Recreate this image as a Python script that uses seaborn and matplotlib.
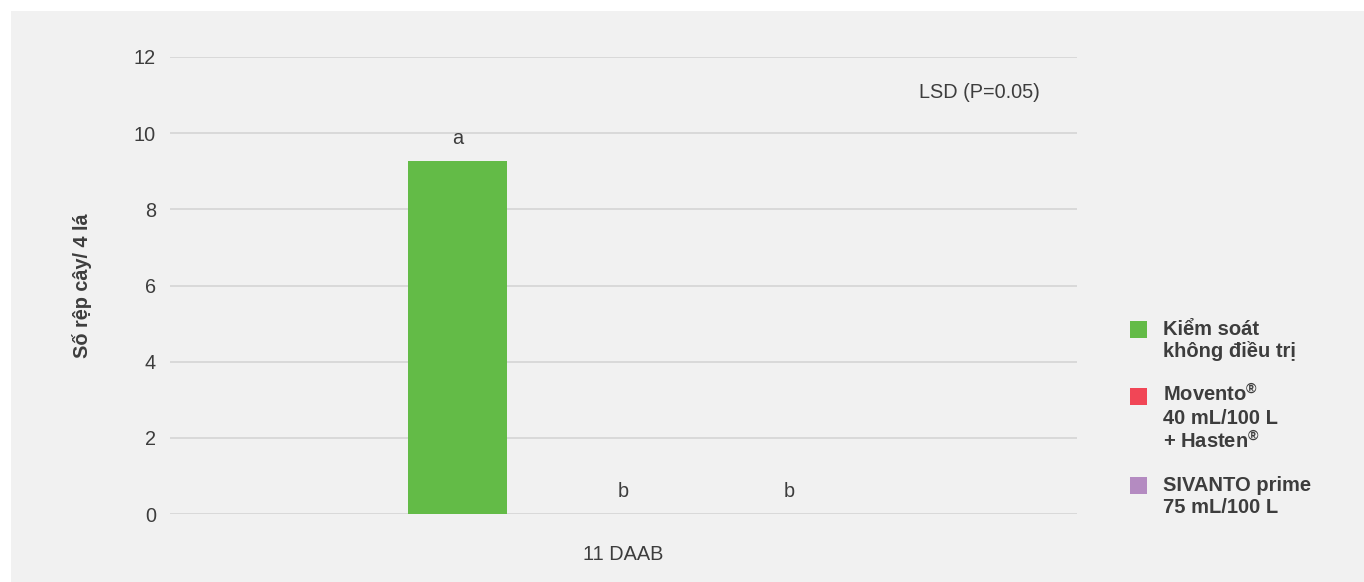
import matplotlib
matplotlib.use("Agg")
import matplotlib.pyplot as plt
from matplotlib.patches import Rectangle
import seaborn as sns
import pandas as pd

# ---- data ----
period = "11 DAAB"
treatments = [
    "Kiểm soát\nkhông điều trị",
    "Movento$^{®}$\n40 mL/100 L\n+ Hasten$^{®}$",
    "SIVANTO prime\n75 mL/100 L",
]
values = [9.27, 0.0, 0.0]
letters = ["a", "b", "b"]
colors = ["#63bb47", "#f14656", "#b48bc1"]
y_ticks = [0, 2, 4, 6, 8, 10, 12]
y_label = "Số rệp cây/ 4 lá"
lsd_note = "LSD (P=0.05)"

df = pd.DataFrame({"period": [period] * len(treatments),
                   "treatment": treatments,
                   "value": values})

sns.set_theme(style="white")
plt.rcParams["font.family"] = ["Liberation Sans", "DejaVu Sans"]
plt.rcParams["mathtext.fontset"] = "custom"
plt.rcParams["mathtext.rm"] = "Liberation Sans"
plt.rcParams["mathtext.it"] = "Liberation Sans"
plt.rcParams["mathtext.bf"] = "Liberation Sans:bold"
plt.rcParams["mathtext.default"] = "bf"
txt = "#3d3d3d"
fs = 14.3

W, H = 1364, 582
fig = plt.figure(figsize=(W / 100, H / 100), dpi=100, facecolor="white")
fig.patches.append(Rectangle((11 / W, 0), 1 - 11 / W, 1 - 11 / H,
                             transform=fig.transFigure, facecolor="#f1f1f1",
                             edgecolor="none", zorder=-10))

ax = fig.add_axes([170 / W, 68 / H, 907 / W, 457 / H])
ax.set_facecolor("none")

sns.barplot(data=df, x="period", y="value", hue="treatment",
            hue_order=treatments, palette=colors, gap=0.4, width=0.8,
            saturation=1, legend=False, ax=ax, errorbar=None, linewidth=0)

ax.set_xlim(-0.729, 0.729)
ax.set_ylim(0, 12)
ax.set_yticks(y_ticks)
ax.grid(axis="y", color="#d5d5d5", linewidth=1.2)
ax.set_axisbelow(True)
for s in ax.spines.values():
    s.set_visible(False)
ax.tick_params(axis="both", length=0, labelcolor=txt, labelsize=fs)
ax.tick_params(axis="y", pad=10)
ax.tick_params(axis="x", pad=22)
ax.set_xlabel("")
ax.set_ylabel(y_label, fontsize=fs, fontweight="bold", color=txt, labelpad=30)

# significance letters above bars
bars = [p for p in ax.patches if p.get_width() > 0]
for p, letter in zip(bars, letters):
    cx = p.get_x() + p.get_width() / 2
    ax.text(cx, p.get_height() + 0.58, letter, ha="center", va="center",
            fontsize=fs, color=txt)

ax.text(0.892, 0.923, lsd_note, transform=ax.transAxes, ha="center",
        va="center", fontsize=fs, color=txt)

# legend (right side)
sq = 17
entries_y = [329.5, 396.5, 485.5]
line_h = 22
for lab, col, yc in zip(treatments, colors, entries_y):
    fig.patches.append(Rectangle((1130 / W, 1 - (yc + sq / 2) / H), sq / W, sq / H,
                                 transform=fig.transFigure, facecolor=col,
                                 edgecolor="none"))
    n = lab.count("\n") + 1
    ymid = yc + (n - 1) * line_h / 2
    fig.text(1163 / W, 1 - ymid / H, lab, ha="left", va="center",
             fontsize=14.5, fontweight="bold", color=txt, linespacing=1.17)

fig.savefig("out.png", dpi=100, facecolor="white")
